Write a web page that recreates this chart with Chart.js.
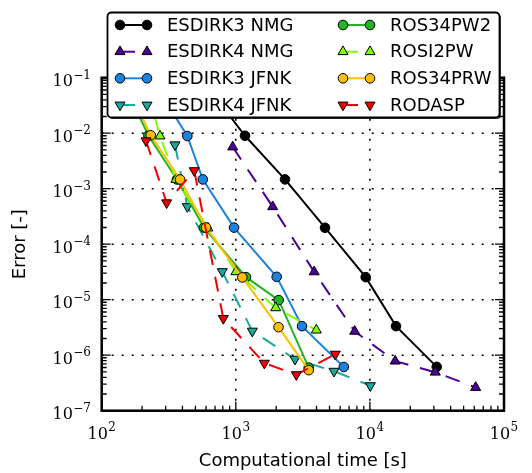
<!DOCTYPE html>
<html>
<head>
<meta charset="utf-8">
<script src="https://cdn.jsdelivr.net/npm/chart.js@4.4.0/dist/chart.umd.min.js"></script>
<style>
  body { margin: 0; background: #fff; }
  canvas { display: block; }
</style>
</head>
<body>
<canvas id="errChart" width="532" height="473"></canvas>
<script>
// values: x = computational time [s], y = error [-]
const seriesNames = ['ESDIRK3 NMG', 'ESDIRK4 NMG', 'ESDIRK3 JFNK', 'ESDIRK4 JFNK',
                     'ROS34PW2', 'ROSI2PW', 'ROS34PRW', 'RODASP'];

const esdirk3NmgTime  = [642, 1171, 2328, 4626, 9305, 15650, 31500];
const esdirk3NmgErr   = [0.06, 9.0e-3, 1.47e-3, 1.98e-4, 2.55e-5, 3.34e-6, 6.17e-7];
const esdirk4NmgTime  = [948, 1885, 3842, 7703, 15440, 30730, 61500];
const esdirk4NmgErr   = [5.64e-3, 4.73e-4, 3.17e-5, 2.69e-6, 7.82e-7, 4.94e-7, 2.62e-7];
const esdirk3JfnkTime = [272, 435, 567, 970, 2018, 3117, 6390];
const esdirk3JfnkErr  = [0.055, 8.89e-3, 1.47e-3, 1.99e-4, 2.58e-5, 3.34e-6, 6.14e-7];
const esdirk4JfnkTime = [352, 435, 793, 1328, 2764, 5398, 10070];
const esdirk4JfnkErr  = [6.19e-3, 4.77e-4, 3.21e-5, 2.72e-6, 8.49e-7, 5.15e-7, 2.83e-7];
const ros34pw2Time    = [154, 223, 364, 579, 1192, 2089, 3497];
const ros34pw2Err     = [0.06, 9.08e-3, 1.467e-3, 1.993e-4, 2.55e-5, 9.83e-6, 5.97e-7];
const rosi2pwTime     = [218, 272, 358, 620, 1003, 1984, 3985];
const rosi2pwErr      = [0.06, 8.89e-3, 1.467e-3, 1.95e-4, 3.18e-5, 7.14e-6, 2.83e-6];
const ros34prwTime    = [160, 232, 384, 600, 1118, 2082, 3497];
const ros34prwErr     = [0.06, 9.2e-3, 1.467e-3, 1.993e-4, 2.52e-5, 3.2e-6, 5.38e-7];
const rodaspTime      = [214, 305, 490, 807, 1632, 2827, 5521];
const rodaspErr       = [7.31e-3, 5.58e-4, 2.12e-3, 4.6e-6, 7.19e-7, 4.46e-7, 1.045e-6];

const xExponents = [2, 3, 4, 5];
const yExponents = [-7, -6, -5, -4, -3, -2, -1];

const times = [esdirk3NmgTime, esdirk4NmgTime, esdirk3JfnkTime, esdirk4JfnkTime,
               ros34pw2Time, rosi2pwTime, ros34prwTime, rodaspTime];
const errs = [esdirk3NmgErr, esdirk4NmgErr, esdirk3JfnkErr, esdirk4JfnkErr,
              ros34pw2Err, rosi2pwErr, ros34prwErr, rodaspErr];

// styles
const colors = ['#000000', '#4b0096', '#1c82e0', '#18a89d', '#22b422', '#80ff00', '#ffbf00', '#f00000'];
const dashed = [false, true, false, true, false, true, false, true];
const markers = ['circle', 'triangle', 'circle', 'triangleDown', 'circle', 'triangle', 'circle', 'triangleDown'];
const DASH = [15, 12];

const datasets = seriesNames.map((name, i) => ({
  label: name,
  data: times[i].map((t, j) => ({ x: t, y: errs[i][j] })),
  showLine: true,
  borderColor: colors[i],
  backgroundColor: colors[i],
  borderWidth: 2,
  borderDash: dashed[i] ? DASH : [],
  borderCapStyle: 'butt',
  pointStyle: markers[i] === 'circle' ? 'circle' : 'triangle',
  pointRotation: markers[i] === 'triangleDown' ? 180 : 0,
  pointRadius: markers[i] === 'circle' ? 4.8 : 5.8,
  pointBackgroundColor: colors[i],
  pointBorderColor: '#000',
  pointBorderWidth: 1,
  order: seriesNames.length - i,
  fill: false,
  tension: 0
}));

function tickList(exps) {
  const out = [];
  for (let i = 0; i < exps.length - 1; i++)
    for (let k = 1; k <= 9; k++) out.push({ v: k * Math.pow(10, exps[i]), major: k === 1 });
  out.push({ v: Math.pow(10, exps[exps.length - 1]), major: true });
  return out;
}

function marker(ctx, kind, x, y, color) {
  ctx.save();
  ctx.setLineDash([]);
  ctx.fillStyle = color;
  ctx.strokeStyle = '#000';
  ctx.lineWidth = 1;
  ctx.beginPath();
  if (kind === 'circle') {
    ctx.arc(x, y, 4.8, 0, Math.PI * 2);
  } else {
    const r = 5.8, s = kind === 'triangleDown' ? -1 : 1;
    ctx.moveTo(x, y - s * r);
    ctx.lineTo(x + r * 0.866, y + s * r * 0.5);
    ctx.lineTo(x - r * 0.866, y + s * r * 0.5);
    ctx.closePath();
  }
  ctx.fill();
  ctx.stroke();
  ctx.restore();
}

const BASE_FONT = '16px "DejaVu Serif"';
const SUP_FONT = '12px "DejaVu Serif"';

function powLabel(ctx, exp, x, y, align) {
  const base = '10', sup = exp < 0 ? '\u2212' + (-exp) : String(exp);
  ctx.font = BASE_FONT;
  const bw = ctx.measureText(base).width;
  ctx.font = SUP_FONT;
  const sw = ctx.measureText(sup).width;
  const w = bw + sw + 0.5;
  const left = align === 'right' ? x - w : x - w / 2;
  ctx.textAlign = 'left';
  ctx.textBaseline = 'alphabetic';
  ctx.font = BASE_FONT;
  ctx.fillText(base, left, y);
  ctx.font = SUP_FONT;
  ctx.fillText(sup, left + bw + 0.5, y - 7.5);
}

const decor = {
  id: 'decor',
  beforeDatasetsDraw(chart) {
    const { ctx, chartArea: a, scales: { x, y } } = chart;
    ctx.save();
    ctx.strokeStyle = '#000';
    ctx.lineWidth = 1.6;
    ctx.setLineDash([2, 8]);
    xExponents.forEach(e => {
      const px = x.getPixelForValue(Math.pow(10, e));
      ctx.beginPath(); ctx.moveTo(px, a.bottom); ctx.lineTo(px, a.top); ctx.stroke();
    });
    yExponents.forEach(e => {
      const py = y.getPixelForValue(Math.pow(10, e));
      ctx.beginPath(); ctx.moveTo(a.left, py); ctx.lineTo(a.right, py); ctx.stroke();
    });
    ctx.restore();
  },
  afterDatasetsDraw(chart) {
    const { ctx, chartArea: a, scales: { x, y } } = chart;
    ctx.save();
    ctx.strokeStyle = '#000';
    ctx.lineWidth = 1.3;
    tickList(xExponents).forEach(t => {
      const px = x.getPixelForValue(t.v), len = t.major ? 9 : 5;
      ctx.beginPath();
      ctx.moveTo(px, a.bottom); ctx.lineTo(px, a.bottom - len);
      ctx.moveTo(px, a.top); ctx.lineTo(px, a.top + len);
      ctx.stroke();
    });
    tickList(yExponents).forEach(t => {
      const py = y.getPixelForValue(t.v), len = t.major ? 9 : 5;
      ctx.beginPath();
      ctx.moveTo(a.left, py); ctx.lineTo(a.left + len, py);
      ctx.moveTo(a.right, py); ctx.lineTo(a.right - len, py);
      ctx.stroke();
    });
    ctx.lineWidth = 2.5;
    ctx.strokeRect(a.left, a.top, a.right - a.left, a.bottom - a.top);
    ctx.restore();
  },
  afterDraw(chart) {
    const { ctx, chartArea: a, scales: { x, y } } = chart;
    ctx.save();
    ctx.fillStyle = '#000';
    xExponents.forEach(e => powLabel(ctx, e, x.getPixelForValue(Math.pow(10, e)), a.bottom + 28, 'center'));
    yExponents.forEach(e => powLabel(ctx, e, 91, y.getPixelForValue(Math.pow(10, e)) + 8.5, 'right'));

    ctx.font = '18px "DejaVu Sans"';
    ctx.textAlign = 'center';
    ctx.textBaseline = 'middle';
    ctx.fillText('Computational time [s]', (a.left + a.right) / 2, 461);
    ctx.save();
    ctx.translate(20, (a.top + a.bottom) / 2);
    ctx.rotate(-Math.PI / 2);
    ctx.fillText('Error [-]', 0, 0);
    ctx.restore();

    // legend box (overlaps the top of the plot)
    const bx = 107.5, by = 12.5, bw = 392, bh = 105;
    ctx.fillStyle = 'rgba(0,0,0,0.75)';
    ctx.beginPath(); ctx.roundRect(bx + 1.5, by + 1.5, bw, bh, 4); ctx.fill();
    ctx.fillStyle = '#fff';
    ctx.strokeStyle = '#000';
    ctx.lineWidth = 1.8;
    ctx.beginPath(); ctx.roundRect(bx, by, bw, bh, 4); ctx.fill(); ctx.stroke();

    const rows = [25, 51.7, 78.3, 105];
    const cols = [120, 343];
    seriesNames.forEach((name, i) => {
      const mx = cols[Math.floor(i / 4)], my = rows[i % 4];
      ctx.strokeStyle = colors[i];
      ctx.lineWidth = 2;
      ctx.setLineDash(dashed[i] ? DASH : []);
      ctx.beginPath(); ctx.moveTo(mx, my); ctx.lineTo(mx + 27, my); ctx.stroke();
      ctx.setLineDash([]);
      marker(ctx, markers[i], mx, my, colors[i]);
      marker(ctx, markers[i], mx + 27, my, colors[i]);
      ctx.fillStyle = '#000';
      ctx.font = '18px "DejaVu Sans"';
      ctx.textAlign = 'left';
      ctx.textBaseline = 'middle';
      ctx.fillText(name, mx + 47, my + 1);
    });
    ctx.restore();
  }
};

new Chart(document.getElementById('errChart'), {
  type: 'scatter',
  data: { datasets },
  options: {
    responsive: false,
    devicePixelRatio: 1,
    animation: false,
    layout: { padding: { left: 101.7, right: 28, top: 77.7, bottom: 62.3 } },
    scales: {
      x: { type: 'logarithmic', display: false, min: 100, max: 1e5 },
      y: { type: 'logarithmic', display: false, min: 1e-7, max: 1e-1 }
    },
    plugins: { legend: { display: false }, tooltip: { enabled: false } }
  },
  plugins: [decor]
});
</script>
</body>
</html>
